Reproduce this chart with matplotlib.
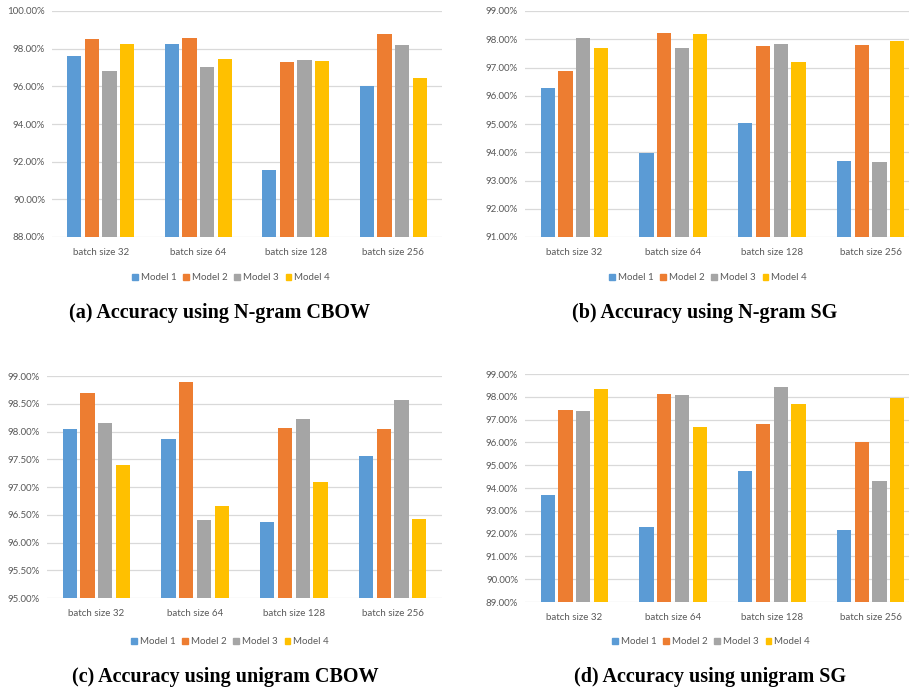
import numpy as np
import matplotlib.pyplot as plt
from matplotlib.patches import Patch
from matplotlib.ticker import FuncFormatter

W, H = 909, 690

batches = ['batch size 32', 'batch size 64', 'batch size 128', 'batch size 256']
models = ['Model 1', 'Model 2', 'Model 3', 'Model 4']
colors = ['#5B9BD5', '#ED7D31', '#A5A5A5', '#FFC000']

# accuracy (%) per model, one value per batch size
ngram_cbow = [
    [97.61, 98.24, 91.58, 96.03],
    [98.49, 98.55, 97.27, 98.78],
    [96.84, 97.02, 97.39, 98.21],
    [98.23, 97.45, 97.32, 96.44],
]
ngram_sg = [
    [96.27, 93.97, 95.03, 93.68],
    [96.88, 98.22, 97.76, 97.78],
    [98.06, 97.70, 97.82, 93.64],
    [97.70, 98.17, 97.19, 97.95],
]
unigram_cbow = [
    [98.04, 97.87, 96.37, 97.55],
    [98.69, 98.90, 98.07, 98.04],
    [98.15, 96.41, 98.22, 98.56],
    [97.40, 96.65, 97.09, 96.42],
]
unigram_sg = [
    [93.69, 92.27, 94.75, 92.14],
    [97.40, 98.13, 96.82, 96.01],
    [97.36, 98.06, 98.41, 94.31],
    [98.34, 96.67, 97.69, 97.94],
]

captions = ['(a) Accuracy using N-gram CBOW', '(b) Accuracy using N-gram SG',
            '(c) Accuracy using unigram CBOW', '(d) Accuracy using unigram SG']


def rect(l, t, r, b):
    return [l / W, 1 - b / H, (r - l) / W, (b - t) / H]


panels = [
    (ngram_cbow, rect(52, 11, 442, 237), np.arange(88, 100.01, 2), (231, 278), (220, 313)),
    (ngram_sg, rect(525, 11, 920, 237), np.arange(91, 99.01, 1), (708, 278), (705, 313)),
    (unigram_cbow, rect(47, 376, 442, 598), np.arange(95, 99.01, 0.5), (230, 642), (225, 677)),
    (unigram_sg, rect(525, 374, 920, 602), np.arange(89, 99.01, 1), (711, 642), (710, 677)),
]

fig = plt.figure(figsize=(W / 100, H / 100), dpi=100)
fig.patch.set_facecolor('white')

x = np.arange(len(batches))
pitch = 0.18
for (data, r, yt, leg_xy, cap_xy), cap in zip(panels, captions):
    ax = fig.add_axes(r)
    for i, vals in enumerate(data):
        ax.bar(x + (i - 1.5) * pitch, vals, width=0.145, color=colors[i], zorder=2)
    ax.set_xlim(-0.5, len(batches) - 0.5)
    ax.set_ylim(yt[0], yt[-1])
    ax.set_yticks(yt)
    ax.yaxis.set_major_formatter(FuncFormatter(lambda v, p: f'{v:.2f}%'))
    ax.set_xticks(x)
    ax.set_xticklabels(batches)
    ax.tick_params(length=0, labelsize=7, labelcolor='#595959')
    ax.tick_params(axis='y', pad=5)
    ax.tick_params(axis='x', pad=8)
    for lab in ax.get_xticklabels() + ax.get_yticklabels():
        lab.set_family('Lato')
    ax.grid(axis='y', color='#D9D9D9', lw=0.9, zorder=0)
    ax.set_axisbelow(True)
    for s in ax.spines.values():
        s.set_visible(False)

    handles = [Patch(color=c, label=m) for c, m in zip(colors, models)]
    fig.legend(handles=handles, loc='center', ncol=4, frameon=False,
               bbox_to_anchor=(leg_xy[0] / W, 1 - leg_xy[1] / H),
               prop={'family': 'Lato', 'size': 7}, labelcolor='#595959',
               handlelength=0.6, handleheight=0.6, handletextpad=0.3,
               columnspacing=0.7)

    fig.text(cap_xy[0] / W, 1 - cap_xy[1] / H, cap, ha='center', va='center',
             family='Liberation Serif', weight='bold', fontsize=14.5)

fig.savefig('out.png', dpi=100)
